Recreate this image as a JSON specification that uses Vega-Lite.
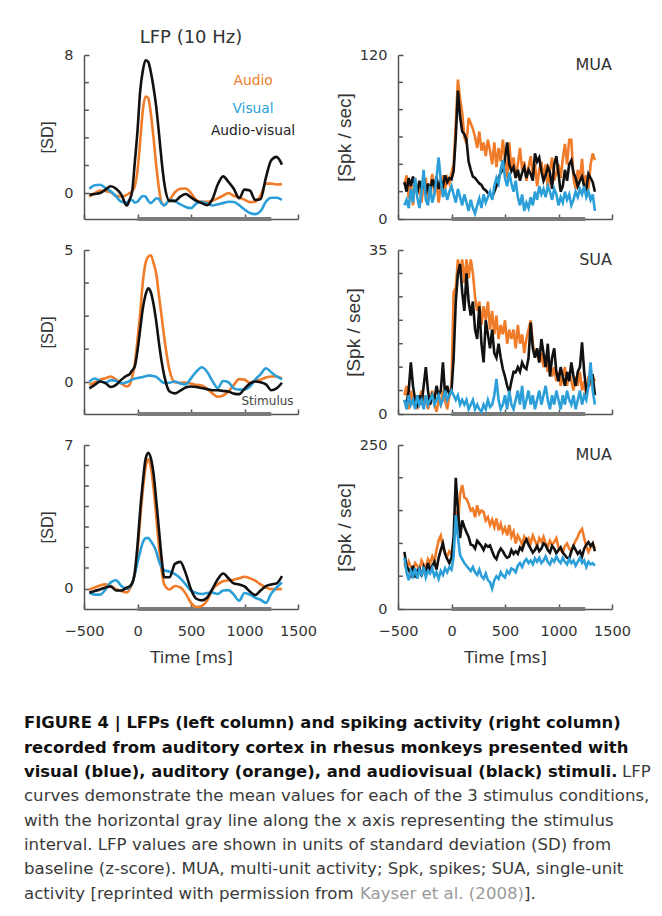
{
"$schema":"https://vega.github.io/schema/vega-lite/v6.json",
"background":"white",
"padding":{"left":23,"top":28,"right":0,"bottom":0},
"config":{
 "view":{"stroke":"transparent"},
 "font":"DejaVu Sans",
 "axis":{"domainColor":"#555","domainWidth":1.5,"tickColor":"#555","tickWidth":1.5,"tickSize":-5,"labelFont":"DejaVu Sans","labelFontSize":14.5,"labelColor":"#333","labelFlush":false,"titleFont":"DejaVu Sans","titleFontSize":16.4,"titleFontWeight":"normal","titleColor":"#333","grid":false},
 "axisX":{"labelPadding":20,"titlePadding":12},
 "axisY":{"labelPadding":16,"titlePadding":8,"titleFont":"Liberation Sans","titleFontSize":16.5},
 "title":{"font":"DejaVu Sans"}
},
"datasets":{
 "lfp1":[
{"t":-450,"A":-0.2,"V":0.25,"X":-0.1},{"t":-400,"A":0.0,"V":0.45,"X":-0.05},{"t":-350,"A":0.15,"V":0.48,"X":0.0},{"t":-300,"A":0.12,"V":0.3,"X":0.2},{"t":-250,"A":0.05,"V":0.1,"X":0.4},{"t":-200,"A":-0.15,"V":-0.2,"X":0.25},{"t":-150,"A":-0.2,"V":-0.5,"X":-0.1},{"t":-100,"A":-0.1,"V":-0.55,"X":-0.72},{"t":-75,"A":0.0,"V":-0.42,"X":-0.4},{"t":-50,"A":0.1,"V":-0.4,"X":0.1},{"t":-25,"A":0.4,"V":-0.55,"X":1.8},{"t":0,"A":1.3,"V":-0.5,"X":3.6},{"t":25,"A":3.0,"V":-0.3,"X":5.9},{"t":50,"A":4.8,"V":-0.17,"X":7.1},{"t":75,"A":5.6,"V":-0.2,"X":7.7},{"t":100,"A":5.5,"V":-0.45,"X":7.6},{"t":125,"A":4.6,"V":-0.58,"X":7.0},{"t":150,"A":3.2,"V":-0.45,"X":6.1},{"t":175,"A":1.6,"V":-0.3,"X":5.0},{"t":200,"A":0.3,"V":-0.35,"X":3.5},{"t":225,"A":-0.55,"V":-0.6,"X":1.9},{"t":250,"A":-0.68,"V":-0.72,"X":0.6},{"t":300,"A":-0.4,"V":-0.4,"X":-0.45},{"t":350,"A":0.05,"V":-0.48,"X":-0.45},{"t":400,"A":0.25,"V":-0.65,"X":-0.2},{"t":450,"A":0.27,"V":-0.8,"X":-0.05},{"t":500,"A":0.0,"V":-0.87,"X":-0.25},{"t":550,"A":-0.4,"V":-0.6,"X":-0.45},{"t":600,"A":-0.5,"V":-0.5,"X":-0.58},{"t":650,"A":-0.5,"V":-0.6,"X":-0.7},{"t":700,"A":-0.45,"V":-0.72,"X":-0.35},{"t":750,"A":-0.3,"V":-0.65,"X":0.5},{"t":800,"A":-0.15,"V":-0.58,"X":0.97},{"t":850,"A":0.0,"V":-0.5,"X":0.65},{"t":900,"A":-0.15,"V":-0.52,"X":0.25},{"t":950,"A":-0.25,"V":-0.7,"X":-0.29},{"t":1000,"A":-0.38,"V":-0.95,"X":0.2},{"t":1050,"A":-0.52,"V":-1.15,"X":0.15},{"t":1100,"A":-0.5,"V":-1.22,"X":-0.39},{"t":1150,"A":-0.15,"V":-1.05,"X":-0.35},{"t":1200,"A":0.55,"V":-0.5,"X":0.9},{"t":1250,"A":0.55,"V":-0.27,"X":1.9},{"t":1300,"A":0.5,"V":-0.27,"X":2.1},{"t":1350,"A":0.52,"V":-0.39,"X":1.65}
 ],
 "lfp2":[
{"t":-450,"A":-0.1,"V":0.02,"X":-0.23},{"t":-400,"A":0.0,"V":0.14,"X":-0.1},{"t":-350,"A":0.1,"V":0.05,"X":0.03},{"t":-300,"A":0.15,"V":-0.02,"X":-0.03},{"t":-250,"A":0.22,"V":0.08,"X":-0.18},{"t":-200,"A":0.1,"V":0.05,"X":-0.1},{"t":-150,"A":-0.05,"V":-0.04,"X":0.1},{"t":-100,"A":-0.16,"V":0.0,"X":0.25},{"t":-75,"A":-0.1,"V":0.05,"X":0.3},{"t":-50,"A":0.2,"V":0.1,"X":0.45},{"t":-25,"A":0.7,"V":0.14,"X":0.6},{"t":0,"A":1.6,"V":0.16,"X":1.2},{"t":25,"A":2.6,"V":0.18,"X":2.0},{"t":50,"A":3.8,"V":0.2,"X":2.8},{"t":75,"A":4.5,"V":0.23,"X":3.3},{"t":100,"A":4.75,"V":0.25,"X":3.55},{"t":125,"A":4.8,"V":0.25,"X":3.4},{"t":150,"A":4.5,"V":0.23,"X":2.95},{"t":175,"A":4.1,"V":0.2,"X":2.3},{"t":200,"A":3.3,"V":0.12,"X":1.5},{"t":225,"A":2.5,"V":0.03,"X":0.8},{"t":250,"A":1.7,"V":-0.03,"X":0.25},{"t":300,"A":0.45,"V":-0.02,"X":-0.35},{"t":350,"A":0.0,"V":0.03,"X":-0.42},{"t":400,"A":-0.02,"V":-0.05,"X":-0.32},{"t":450,"A":-0.01,"V":-0.08,"X":-0.2},{"t":500,"A":-0.05,"V":0.15,"X":-0.16},{"t":550,"A":-0.1,"V":0.4,"X":-0.18},{"t":600,"A":-0.12,"V":0.57,"X":-0.22},{"t":650,"A":-0.25,"V":0.4,"X":-0.26},{"t":700,"A":-0.42,"V":0.05,"X":-0.3},{"t":750,"A":-0.55,"V":-0.22,"X":-0.3},{"t":800,"A":-0.5,"V":0.05,"X":-0.33},{"t":850,"A":-0.35,"V":0.0,"X":-0.35},{"t":900,"A":-0.1,"V":-0.23,"X":-0.43},{"t":950,"A":0.12,"V":-0.28,"X":-0.45},{"t":1000,"A":0.1,"V":-0.27,"X":-0.25},{"t":1050,"A":-0.03,"V":-0.17,"X":-0.05},{"t":1100,"A":0.05,"V":0.1,"X":0.03},{"t":1150,"A":0.1,"V":0.3,"X":0.0},{"t":1200,"A":0.18,"V":0.53,"X":-0.08},{"t":1250,"A":0.22,"V":0.38,"X":-0.3},{"t":1300,"A":0.22,"V":0.22,"X":-0.23},{"t":1350,"A":0.15,"V":0.11,"X":-0.02}
 ],
 "lfp3":[
{"t":-450,"A":-0.05,"V":-0.2,"X":-0.2},{"t":-400,"A":0.05,"V":-0.3,"X":-0.12},{"t":-350,"A":0.15,"V":-0.3,"X":-0.05},{"t":-300,"A":0.2,"V":-0.05,"X":0.05},{"t":-250,"A":0.12,"V":0.3,"X":0.1},{"t":-200,"A":-0.03,"V":0.4,"X":-0.1},{"t":-150,"A":-0.12,"V":0.12,"X":-0.1},{"t":-100,"A":-0.19,"V":-0.02,"X":0.05},{"t":-75,"A":-0.05,"V":0.05,"X":0.1},{"t":-50,"A":0.25,"V":0.25,"X":0.25},{"t":-25,"A":0.7,"V":0.7,"X":0.8},{"t":0,"A":1.8,"V":1.26,"X":2.1},{"t":25,"A":3.4,"V":1.8,"X":3.8},{"t":50,"A":4.8,"V":2.25,"X":5.2},{"t":75,"A":5.9,"V":2.45,"X":6.3},{"t":100,"A":6.3,"V":2.47,"X":6.62},{"t":125,"A":5.9,"V":2.3,"X":6.35},{"t":150,"A":4.9,"V":2.1,"X":5.6},{"t":175,"A":3.5,"V":1.8,"X":4.3},{"t":200,"A":2.1,"V":1.35,"X":2.9},{"t":225,"A":0.9,"V":1.05,"X":1.5},{"t":250,"A":0.2,"V":0.9,"X":0.55},{"t":300,"A":-0.05,"V":0.82,"X":0.55},{"t":350,"A":0.12,"V":0.7,"X":1.2},{"t":400,"A":0.05,"V":0.5,"X":1.3},{"t":450,"A":-0.25,"V":0.2,"X":0.75},{"t":500,"A":-0.7,"V":-0.1,"X":-0.05},{"t":550,"A":-0.9,"V":-0.22,"X":-0.5},{"t":600,"A":-0.85,"V":-0.27,"X":-0.58},{"t":650,"A":-0.6,"V":-0.22,"X":-0.45},{"t":700,"A":-0.05,"V":-0.2,"X":-0.02},{"t":750,"A":0.2,"V":-0.27,"X":0.45},{"t":800,"A":0.35,"V":-0.1,"X":0.73},{"t":850,"A":0.4,"V":-0.08,"X":0.5},{"t":900,"A":0.43,"V":-0.3,"X":0.25},{"t":950,"A":0.5,"V":-0.6,"X":0.2},{"t":1000,"A":0.57,"V":-0.22,"X":0.1},{"t":1050,"A":0.5,"V":-0.3,"X":-0.15},{"t":1100,"A":0.38,"V":-0.45,"X":-0.32},{"t":1150,"A":0.2,"V":-0.55,"X":-0.1},{"t":1200,"A":0.05,"V":-0.7,"X":0.12},{"t":1250,"A":-0.03,"V":-0.25,"X":0.2},{"t":1300,"A":-0.03,"V":0.05,"X":0.25},{"t":1350,"A":-0.03,"V":0.29,"X":0.6}
 ],
 "mua1":[
{"t":-440,"A":25,"V":10,"X":27},{"t":-420,"A":32,"V":14,"X":20},{"t":-400,"A":15,"V":8,"X":30},{"t":-380,"A":28,"V":22,"X":24},{"t":-360,"A":10,"V":12,"X":31},{"t":-340,"A":30,"V":30,"X":25},{"t":-320,"A":18,"V":16,"X":19},{"t":-300,"A":24,"V":8,"X":28},{"t":-280,"A":12,"V":20,"X":22},{"t":-260,"A":26,"V":36,"X":30},{"t":-240,"A":30,"V":14,"X":18},{"t":-220,"A":14,"V":10,"X":26},{"t":-200,"A":22,"V":24,"X":20},{"t":-180,"A":33,"V":12,"X":29},{"t":-160,"A":18,"V":18,"X":24},{"t":-140,"A":28,"V":30,"X":31},{"t":-120,"A":12,"V":45,"X":22},{"t":-100,"A":24,"V":28,"X":28},{"t":-80,"A":32,"V":16,"X":24},{"t":-60,"A":22,"V":22,"X":32},{"t":-40,"A":30,"V":14,"X":27},{"t":-20,"A":26,"V":20,"X":30},{"t":0,"A":34,"V":24,"X":29},{"t":20,"A":40,"V":18,"X":35},{"t":40,"A":70,"V":12,"X":60},{"t":60,"A":102,"V":22,"X":94},{"t":80,"A":88,"V":16,"X":75},{"t":100,"A":78,"V":10,"X":64},{"t":120,"A":60,"V":18,"X":62},{"t":140,"A":55,"V":12,"X":58},{"t":160,"A":74,"V":6,"X":42},{"t":180,"A":70,"V":14,"X":36},{"t":200,"A":66,"V":8,"X":31},{"t":220,"A":60,"V":4,"X":30},{"t":240,"A":52,"V":10,"X":28},{"t":260,"A":64,"V":15,"X":26},{"t":280,"A":50,"V":8,"X":25},{"t":300,"A":56,"V":18,"X":22},{"t":320,"A":46,"V":12,"X":21},{"t":340,"A":58,"V":16,"X":19},{"t":360,"A":50,"V":20,"X":18},{"t":380,"A":40,"V":14,"X":16},{"t":400,"A":56,"V":24,"X":20},{"t":420,"A":38,"V":30,"X":24},{"t":440,"A":52,"V":26,"X":30},{"t":460,"A":42,"V":36,"X":34},{"t":480,"A":58,"V":43,"X":36},{"t":500,"A":44,"V":30,"X":44},{"t":520,"A":30,"V":24,"X":56},{"t":540,"A":56,"V":34,"X":40},{"t":560,"A":36,"V":26,"X":35},{"t":580,"A":45,"V":20,"X":38},{"t":600,"A":30,"V":28,"X":30},{"t":620,"A":40,"V":16,"X":36},{"t":640,"A":52,"V":10,"X":28},{"t":660,"A":36,"V":18,"X":34},{"t":680,"A":42,"V":6,"X":38},{"t":700,"A":28,"V":12,"X":30},{"t":720,"A":38,"V":8,"X":36},{"t":740,"A":46,"V":16,"X":33},{"t":760,"A":32,"V":10,"X":28},{"t":780,"A":40,"V":20,"X":48},{"t":800,"A":24,"V":14,"X":42},{"t":820,"A":36,"V":24,"X":45},{"t":840,"A":42,"V":18,"X":35},{"t":860,"A":30,"V":22,"X":28},{"t":880,"A":40,"V":16,"X":32},{"t":900,"A":22,"V":24,"X":38},{"t":920,"A":36,"V":20,"X":34},{"t":940,"A":45,"V":14,"X":22},{"t":960,"A":28,"V":22,"X":40},{"t":980,"A":34,"V":18,"X":46},{"t":1000,"A":40,"V":10,"X":33},{"t":1020,"A":30,"V":16,"X":20},{"t":1040,"A":44,"V":12,"X":24},{"t":1060,"A":55,"V":20,"X":36},{"t":1080,"A":40,"V":14,"X":28},{"t":1100,"A":58,"V":18,"X":40},{"t":1120,"A":58,"V":10,"X":43},{"t":1140,"A":30,"V":14,"X":34},{"t":1160,"A":22,"V":20,"X":30},{"t":1180,"A":36,"V":16,"X":24},{"t":1200,"A":28,"V":22,"X":28},{"t":1220,"A":44,"V":18,"X":31},{"t":1240,"A":24,"V":24,"X":24},{"t":1260,"A":32,"V":16,"X":22},{"t":1280,"A":22,"V":20,"X":33},{"t":1300,"A":40,"V":14,"X":30},{"t":1320,"A":48,"V":18,"X":27},{"t":1340,"A":43,"V":6,"X":20}
 ],
 "sua":[
{"t":-440,"A":4,"V":3,"X":3},{"t":-420,"A":6,"V":1,"X":2},{"t":-400,"A":1,"V":4,"X":5},{"t":-380,"A":5,"V":2,"X":11},{"t":-360,"A":2,"V":3,"X":6},{"t":-340,"A":4,"V":1,"X":3},{"t":-320,"A":1,"V":4,"X":2},{"t":-300,"A":3,"V":2,"X":4},{"t":-280,"A":5,"V":3,"X":2},{"t":-260,"A":2,"V":1,"X":6},{"t":-240,"A":4,"V":4,"X":10},{"t":-220,"A":1,"V":2,"X":5},{"t":-200,"A":3,"V":3,"X":2},{"t":-180,"A":5,"V":4,"X":4},{"t":-160,"A":2,"V":2,"X":3},{"t":-140,"A":0.5,"V":3,"X":6},{"t":-120,"A":3,"V":4,"X":4},{"t":-100,"A":2,"V":2,"X":5},{"t":-80,"A":5,"V":3,"X":11},{"t":-60,"A":3,"V":5,"X":4},{"t":-40,"A":1,"V":3,"X":6},{"t":-20,"A":4,"V":4,"X":4},{"t":0,"A":6,"V":5,"X":5},{"t":20,"A":26,"V":4,"X":12},{"t":40,"A":27,"V":3,"X":24},{"t":60,"A":33,"V":4,"X":30},{"t":80,"A":30,"V":2,"X":32},{"t":100,"A":33,"V":3,"X":26},{"t":120,"A":28,"V":2,"X":22},{"t":140,"A":33,"V":3,"X":30},{"t":160,"A":29,"V":1,"X":24},{"t":180,"A":33,"V":2,"X":21},{"t":200,"A":30,"V":3,"X":24},{"t":220,"A":25,"V":1,"X":18},{"t":240,"A":22,"V":2,"X":16},{"t":260,"A":24,"V":1,"X":23},{"t":280,"A":19,"V":0.5,"X":15},{"t":300,"A":23,"V":2,"X":11},{"t":320,"A":20,"V":1,"X":20},{"t":340,"A":24,"V":3,"X":17},{"t":360,"A":18,"V":1.5,"X":14},{"t":380,"A":22,"V":2,"X":18},{"t":400,"A":17,"V":4,"X":13},{"t":420,"A":21,"V":7.5,"X":12},{"t":440,"A":16,"V":3,"X":15},{"t":460,"A":19,"V":1,"X":12},{"t":480,"A":17,"V":2,"X":9.6},{"t":500,"A":20,"V":4,"X":8},{"t":520,"A":15,"V":1,"X":6},{"t":540,"A":18,"V":5,"X":4.7},{"t":560,"A":16,"V":2,"X":7},{"t":580,"A":18,"V":1,"X":9},{"t":600,"A":14,"V":3,"X":8.9},{"t":620,"A":19,"V":5,"X":10},{"t":640,"A":15,"V":2,"X":9},{"t":660,"A":17,"V":6,"X":11},{"t":680,"A":13,"V":1,"X":10},{"t":700,"A":16,"V":3,"X":9.6},{"t":720,"A":18,"V":5,"X":12},{"t":740,"A":20,"V":2,"X":19.5},{"t":760,"A":15,"V":4,"X":14},{"t":780,"A":12,"V":1,"X":12},{"t":800,"A":14,"V":3,"X":14},{"t":820,"A":11,"V":5,"X":11},{"t":840,"A":13,"V":2,"X":16},{"t":860,"A":10,"V":4,"X":13},{"t":880,"A":12,"V":6,"X":10},{"t":900,"A":9,"V":3,"X":15},{"t":920,"A":11,"V":1,"X":8},{"t":940,"A":8,"V":4,"X":12},{"t":960,"A":10,"V":2,"X":14},{"t":980,"A":7,"V":5,"X":9},{"t":1000,"A":9,"V":3,"X":7},{"t":1020,"A":6,"V":1,"X":10},{"t":1040,"A":8,"V":4,"X":8},{"t":1060,"A":10,"V":2,"X":6},{"t":1080,"A":6,"V":5,"X":9},{"t":1100,"A":9,"V":3,"X":7},{"t":1120,"A":7,"V":2,"X":11},{"t":1140,"A":5,"V":4,"X":8},{"t":1160,"A":8,"V":1,"X":6},{"t":1180,"A":6,"V":3,"X":9},{"t":1200,"A":9,"V":5,"X":10},{"t":1220,"A":5,"V":2,"X":15.3},{"t":1240,"A":7,"V":4,"X":9},{"t":1260,"A":4,"V":3,"X":5},{"t":1280,"A":8,"V":6,"X":6},{"t":1300,"A":6,"V":11,"X":8},{"t":1320,"A":8,"V":5,"X":8.2},{"t":1340,"A":7,"V":2,"X":4}
 ],
 "mua2":[
{"t":-440,"A":70,"V":78,"X":87},{"t":-420,"A":60,"V":56,"X":65},{"t":-400,"A":72,"V":44,"X":60},{"t":-380,"A":64,"V":58,"X":52},{"t":-360,"A":58,"V":50,"X":66},{"t":-340,"A":70,"V":62,"X":48},{"t":-320,"A":66,"V":46,"X":58},{"t":-300,"A":60,"V":60,"X":62},{"t":-280,"A":74,"V":52,"X":50},{"t":-260,"A":68,"V":64,"X":64},{"t":-240,"A":62,"V":48,"X":56},{"t":-220,"A":76,"V":58,"X":70},{"t":-200,"A":70,"V":54,"X":58},{"t":-180,"A":80,"V":62,"X":66},{"t":-160,"A":72,"V":50,"X":72},{"t":-140,"A":90,"V":56,"X":60},{"t":-120,"A":105,"V":46,"X":78},{"t":-100,"A":112,"V":58,"X":90},{"t":-80,"A":92,"V":52,"X":100},{"t":-60,"A":86,"V":62,"X":84},{"t":-40,"A":80,"V":56,"X":76},{"t":-20,"A":88,"V":64,"X":70},{"t":0,"A":84,"V":60,"X":78},{"t":20,"A":100,"V":80,"X":110},{"t":40,"A":150,"V":143,"X":200},{"t":60,"A":130,"V":110,"X":150},{"t":80,"A":175,"V":82,"X":108},{"t":100,"A":189,"V":76,"X":135},{"t":120,"A":170,"V":70,"X":125},{"t":140,"A":168,"V":66,"X":117},{"t":160,"A":160,"V":62,"X":110},{"t":180,"A":150,"V":58,"X":98},{"t":200,"A":153,"V":64,"X":97},{"t":220,"A":140,"V":56,"X":92},{"t":240,"A":158,"V":52,"X":104},{"t":260,"A":145,"V":60,"X":100},{"t":280,"A":150,"V":50,"X":96},{"t":300,"A":148,"V":46,"X":90},{"t":320,"A":135,"V":54,"X":98},{"t":340,"A":140,"V":44,"X":95},{"t":360,"A":128,"V":41,"X":97},{"t":380,"A":136,"V":31,"X":88},{"t":400,"A":125,"V":44,"X":80},{"t":420,"A":138,"V":50,"X":76},{"t":440,"A":120,"V":46,"X":86},{"t":460,"A":130,"V":56,"X":92},{"t":480,"A":117,"V":51,"X":88},{"t":500,"A":124,"V":48,"X":82},{"t":520,"A":112,"V":58,"X":78},{"t":540,"A":128,"V":54,"X":80},{"t":560,"A":110,"V":62,"X":90},{"t":580,"A":118,"V":60,"X":84},{"t":600,"A":100,"V":56,"X":88},{"t":620,"A":112,"V":66,"X":84},{"t":640,"A":106,"V":70,"X":94},{"t":660,"A":98,"V":64,"X":90},{"t":680,"A":110,"V":72,"X":100},{"t":700,"A":104,"V":76,"X":106},{"t":720,"A":108,"V":70,"X":98},{"t":740,"A":100,"V":74,"X":92},{"t":760,"A":112,"V":68,"X":86},{"t":780,"A":104,"V":77,"X":90},{"t":800,"A":96,"V":72,"X":96},{"t":820,"A":108,"V":78,"X":88},{"t":840,"A":102,"V":70,"X":92},{"t":860,"A":110,"V":74,"X":100},{"t":880,"A":100,"V":80,"X":97},{"t":900,"A":95,"V":72,"X":90},{"t":920,"A":104,"V":68,"X":86},{"t":940,"A":98,"V":76,"X":96},{"t":960,"A":102,"V":72,"X":92},{"t":980,"A":108,"V":80,"X":85},{"t":1000,"A":94,"V":74,"X":90},{"t":1020,"A":90,"V":70,"X":94},{"t":1040,"A":86,"V":78,"X":86},{"t":1060,"A":96,"V":72,"X":82},{"t":1080,"A":100,"V":68,"X":78},{"t":1100,"A":92,"V":76,"X":77},{"t":1120,"A":88,"V":70,"X":88},{"t":1140,"A":97,"V":74,"X":96},{"t":1160,"A":104,"V":66,"X":90},{"t":1180,"A":110,"V":72,"X":84},{"t":1200,"A":118,"V":78,"X":88},{"t":1220,"A":122,"V":70,"X":80},{"t":1240,"A":108,"V":74,"X":92},{"t":1260,"A":96,"V":64,"X":98},{"t":1280,"A":87,"V":72,"X":102},{"t":1300,"A":94,"V":68,"X":96},{"t":1320,"A":100,"V":70,"X":100},{"t":1340,"A":92,"V":66,"X":88}
 ],
 "caption":[
{"line":1,"k":"b","s":"FIGURE 4 | LFPs (left column) and spiking activity (right column)"},
{"line":2,"k":"b","s":"recorded from auditory cortex in rhesus monkeys presented with"},
{"line":3,"k":"b","s":"visual (blue), auditory (orange), and audiovisual (black) stimuli."},
{"line":3,"k":"n2","s":"LFP"},
{"line":4,"k":"n","s":"curves demonstrate the mean values for each of the 3 stimulus conditions,"},
{"line":5,"k":"n","s":"with the horizontal gray line along the x axis representing the stimulus"},
{"line":6,"k":"n","s":"interval. LFP values are shown in units of standard deviation (SD) from"},
{"line":7,"k":"n","s":"baseline (z-score). MUA, multi-unit activity; Spk, spikes; SUA, single-unit"},
{"line":8,"k":"n","s":"activity [reprinted with permission from"},
{"line":8,"k":"g","s":"Kayser et al. (2008)"},
{"line":8,"k":"n3","s":"]."}
 ]
},
"spacing":43,
"vconcat":[
 {
  "columns":2,
  "spacing":{"row":15,"column":17},
  "concat":[
   {
    "width":214,"height":164,
    "title":{"text":"LFP (10 Hz)","fontSize":18,"fontWeight":"normal","color":"#333","offset":0.5},
    "layer":[
     {"data":{"values":[{"s":0,"e":1250}]},"mark":{"type":"rule","color":"#7b7b7b","strokeWidth":4},
      "encoding":{"x":{"field":"s","type":"quantitative"},"x2":{"field":"e"},"y":{"datum":-1.5}}},
     {"data":{"values":[{"m":1.6},{"m":3.2},{"m":4.8},{"m":6.4}]},"mark":{"type":"rule","color":"#555","strokeWidth":1.5},
      "encoding":{"x":{"datum":-500},"x2":{"datum":-455},"y":{"field":"m","type":"quantitative"}}},
     {"data":{"name":"lfp1"},"transform":[{"fold":["A","V","X"],"as":["c","v"]}],
      "mark":{"type":"line","interpolate":"monotone"},
      "encoding":{
       "x":{"field":"t","type":"quantitative","scale":{"domain":[-500,1500],"nice":false},"axis":{"values":[-500,0,500,1000,1500],"labels":false,"title":null}},
       "y":{"field":"v","type":"quantitative","scale":{"domain":[-1.5,8],"nice":false,"zero":false},"axis":{"title":"[SD]","values":[0,8]}},
       "color":{"field":"c","type":"nominal","scale":{"domain":["A","V","X"],"range":["#F07C2A","#2C9FD9","#111111"]},"legend":null},
       "strokeWidth":{"field":"c","type":"nominal","scale":{"domain":["A","V","X"],"range":[2.6,2.6,3.6]},"legend":null}}},
     {"data":{"values":[{}]},"mark":{"type":"text","align":"center","baseline":"middle","fontSize":13.8,"color":"#F07C2A"},
      "encoding":{"x":{"datum":1080},"y":{"datum":6.5},"text":{"value":"Audio"}}},
     {"data":{"values":[{}]},"mark":{"type":"text","align":"center","baseline":"middle","fontSize":13.8,"color":"#2C9FD9"},
      "encoding":{"x":{"datum":1080},"y":{"datum":4.9},"text":{"value":"Visual"}}},
     {"data":{"values":[{}]},"mark":{"type":"text","align":"center","baseline":"middle","fontSize":13.8,"color":"#222"},
      "encoding":{"x":{"datum":1080},"y":{"datum":3.6},"text":{"value":"Audio-visual"}}}
    ]
   },
   {
    "width":214,"height":164,
    "layer":[
     {"data":{"values":[{"s":0,"e":1250}]},"mark":{"type":"rule","color":"#7b7b7b","strokeWidth":4},
      "encoding":{"x":{"field":"s","type":"quantitative"},"x2":{"field":"e"},"y":{"datum":0}}},
     {"data":{"values":[{"m":20},{"m":40},{"m":60},{"m":80},{"m":100}]},"mark":{"type":"rule","color":"#555","strokeWidth":1.5},
      "encoding":{"x":{"datum":-500},"x2":{"datum":-455},"y":{"field":"m","type":"quantitative"}}},
     {"data":{"name":"mua1"},"transform":[{"fold":["A","X","V"],"as":["c","v"]}],
      "mark":{"type":"line"},
      "encoding":{
       "x":{"field":"t","type":"quantitative","scale":{"domain":[-500,1500],"nice":false},"axis":{"values":[-500,0,500,1000,1500],"labels":false,"title":null}},
       "y":{"field":"v","type":"quantitative","scale":{"domain":[0,120],"nice":false},"axis":{"title":"[Spk / sec]","titleFontSize":19,"titlePadding":5,"values":[0,120]}},
       "color":{"field":"c","type":"nominal","scale":{"domain":["A","V","X"],"range":["#F07C2A","#2C9FD9","#111111"]},"legend":null},
       "strokeWidth":{"field":"c","type":"nominal","scale":{"domain":["A","V","X"],"range":[2.6,2.6,3.4]},"legend":null}}},
     {"data":{"values":[{}]},"mark":{"type":"text","align":"right","baseline":"top","fontSize":16,"color":"#333","dy":2},
      "encoding":{"x":{"datum":1500},"y":{"datum":120},"text":{"value":"MUA"}}}
    ]
   },
   {
    "width":214,"height":164,
    "layer":[
     {"data":{"values":[{"s":0,"e":1250}]},"mark":{"type":"rule","color":"#7b7b7b","strokeWidth":4},
      "encoding":{"x":{"field":"s","type":"quantitative"},"x2":{"field":"e"},"y":{"datum":-1.2}}},
     {"data":{"values":[{"m":1.25},{"m":2.5},{"m":3.75}]},"mark":{"type":"rule","color":"#555","strokeWidth":1.5},
      "encoding":{"x":{"datum":-500},"x2":{"datum":-455},"y":{"field":"m","type":"quantitative"}}},
     {"data":{"name":"lfp2"},"transform":[{"fold":["A","V","X"],"as":["c","v"]}],
      "mark":{"type":"line","interpolate":"monotone"},
      "encoding":{
       "x":{"field":"t","type":"quantitative","scale":{"domain":[-500,1500],"nice":false},"axis":{"values":[-500,0,500,1000,1500],"labels":false,"title":null}},
       "y":{"field":"v","type":"quantitative","scale":{"domain":[-1.2,5],"nice":false,"zero":false},"axis":{"title":"[SD]","values":[0,5]}},
       "color":{"field":"c","type":"nominal","scale":{"domain":["A","V","X"],"range":["#F07C2A","#2C9FD9","#111111"]},"legend":null},
       "strokeWidth":{"field":"c","type":"nominal","scale":{"domain":["A","V","X"],"range":[2.6,2.6,3.6]},"legend":null}}},
     {"data":{"values":[{}]},"mark":{"type":"text","align":"center","baseline":"middle","fontSize":12,"color":"#444"},
      "encoding":{"x":{"datum":1215},"y":{"datum":-0.69},"text":{"value":"Stimulus"}}}
    ]
   },
   {
    "width":214,"height":164,
    "layer":[
     {"data":{"values":[{"s":0,"e":1250}]},"mark":{"type":"rule","color":"#7b7b7b","strokeWidth":4},
      "encoding":{"x":{"field":"s","type":"quantitative"},"x2":{"field":"e"},"y":{"datum":0}}},
     {"data":{"values":[{"m":5},{"m":10},{"m":15},{"m":20},{"m":25},{"m":30}]},"mark":{"type":"rule","color":"#555","strokeWidth":1.5},
      "encoding":{"x":{"datum":-500},"x2":{"datum":-455},"y":{"field":"m","type":"quantitative"}}},
     {"data":{"name":"sua"},"transform":[{"fold":["A","X","V"],"as":["c","v"]}],
      "mark":{"type":"line"},
      "encoding":{
       "x":{"field":"t","type":"quantitative","scale":{"domain":[-500,1500],"nice":false},"axis":{"values":[-500,0,500,1000,1500],"labels":false,"title":null}},
       "y":{"field":"v","type":"quantitative","scale":{"domain":[0,35],"nice":false},"axis":{"title":"[Spk / sec]","titleFontSize":19,"titlePadding":5,"values":[0,35]}},
       "color":{"field":"c","type":"nominal","scale":{"domain":["A","V","X"],"range":["#F07C2A","#2C9FD9","#111111"]},"legend":null},
       "strokeWidth":{"field":"c","type":"nominal","scale":{"domain":["A","V","X"],"range":[2.6,2.6,3.4]},"legend":null}}},
     {"data":{"values":[{}]},"mark":{"type":"text","align":"right","baseline":"top","fontSize":16,"color":"#333","dy":2},
      "encoding":{"x":{"datum":1500},"y":{"datum":35},"text":{"value":"SUA"}}}
    ]
   },
   {
    "width":214,"height":164,
    "layer":[
     {"data":{"values":[{"s":0,"e":1250}]},"mark":{"type":"rule","color":"#7b7b7b","strokeWidth":4},
      "encoding":{"x":{"field":"s","type":"quantitative"},"x2":{"field":"e"},"y":{"datum":-1}}},
     {"data":{"values":[{"m":1},{"m":2},{"m":3},{"m":4},{"m":5},{"m":6}]},"mark":{"type":"rule","color":"#555","strokeWidth":1.5},
      "encoding":{"x":{"datum":-500},"x2":{"datum":-455},"y":{"field":"m","type":"quantitative"}}},
     {"data":{"name":"lfp3"},"transform":[{"fold":["A","V","X"],"as":["c","v"]}],
      "mark":{"type":"line","interpolate":"monotone"},
      "encoding":{
       "x":{"field":"t","type":"quantitative","scale":{"domain":[-500,1500],"nice":false},"axis":{"values":[-500,0,500,1000,1500],"title":"Time [ms]","format":"d"}},
       "y":{"field":"v","type":"quantitative","scale":{"domain":[-1,7],"nice":false,"zero":false},"axis":{"title":"[SD]","values":[0,7]}},
       "color":{"field":"c","type":"nominal","scale":{"domain":["A","V","X"],"range":["#F07C2A","#2C9FD9","#111111"]},"legend":null},
       "strokeWidth":{"field":"c","type":"nominal","scale":{"domain":["A","V","X"],"range":[2.6,2.6,3.6]},"legend":null}}}
    ]
   },
   {
    "width":214,"height":164,
    "layer":[
     {"data":{"values":[{"s":0,"e":1250}]},"mark":{"type":"rule","color":"#7b7b7b","strokeWidth":4},
      "encoding":{"x":{"field":"s","type":"quantitative"},"x2":{"field":"e"},"y":{"datum":0}}},
     {"data":{"values":[{"m":50},{"m":100},{"m":150},{"m":200}]},"mark":{"type":"rule","color":"#555","strokeWidth":1.5},
      "encoding":{"x":{"datum":-500},"x2":{"datum":-455},"y":{"field":"m","type":"quantitative"}}},
     {"data":{"name":"mua2"},"transform":[{"fold":["A","X","V"],"as":["c","v"]}],
      "mark":{"type":"line"},
      "encoding":{
       "x":{"field":"t","type":"quantitative","scale":{"domain":[-500,1500],"nice":false},"axis":{"values":[-500,0,500,1000,1500],"title":"Time [ms]","format":"d"}},
       "y":{"field":"v","type":"quantitative","scale":{"domain":[0,250],"nice":false},"axis":{"title":"[Spk / sec]","titleFontSize":19,"titlePadding":5,"values":[0,250]}},
       "color":{"field":"c","type":"nominal","scale":{"domain":["A","V","X"],"range":["#F07C2A","#2C9FD9","#111111"]},"legend":null},
       "strokeWidth":{"field":"c","type":"nominal","scale":{"domain":["A","V","X"],"range":[2.6,2.6,3.4]},"legend":null}}},
     {"data":{"values":[{}]},"mark":{"type":"text","align":"right","baseline":"top","fontSize":16,"color":"#333","dy":2},
      "encoding":{"x":{"datum":1500},"y":{"datum":250},"text":{"value":"MUA"}}}
    ]
   }
  ]
 },
 {
  "width":600,"height":195,
  "data":{"name":"caption"},
  "encoding":{
   "y":{"field":"line","type":"ordinal","axis":null,"scale":{"type":"point","padding":0.5}},
   "x":{"value":0},
   "text":{"field":"s"}
  },
  "layer":[
   {"transform":[{"filter":"datum.k=='b'"}],"mark":{"type":"text","align":"left","baseline":"middle","font":"DejaVu Sans","fontSize":16.4,"fontWeight":"bold","color":"#111","dx":-60}},
   {"transform":[{"filter":"datum.k=='n'"}],"mark":{"type":"text","align":"left","baseline":"middle","font":"DejaVu Sans","fontSize":16.6,"color":"#3a3a3a","dx":-60}},
   {"transform":[{"filter":"datum.k=='n2'"}],"mark":{"type":"text","align":"left","baseline":"middle","font":"DejaVu Sans","fontSize":16.6,"color":"#3a3a3a","dx":538}},
   {"transform":[{"filter":"datum.k=='g'"}],"mark":{"type":"text","align":"left","baseline":"middle","font":"DejaVu Sans","fontSize":16.6,"color":"#9a9a9a","dx":276}},
   {"transform":[{"filter":"datum.k=='n3'"}],"mark":{"type":"text","align":"left","baseline":"middle","font":"DejaVu Sans","fontSize":16.6,"color":"#3a3a3a","dx":440}}
  ]
 }
]
}
